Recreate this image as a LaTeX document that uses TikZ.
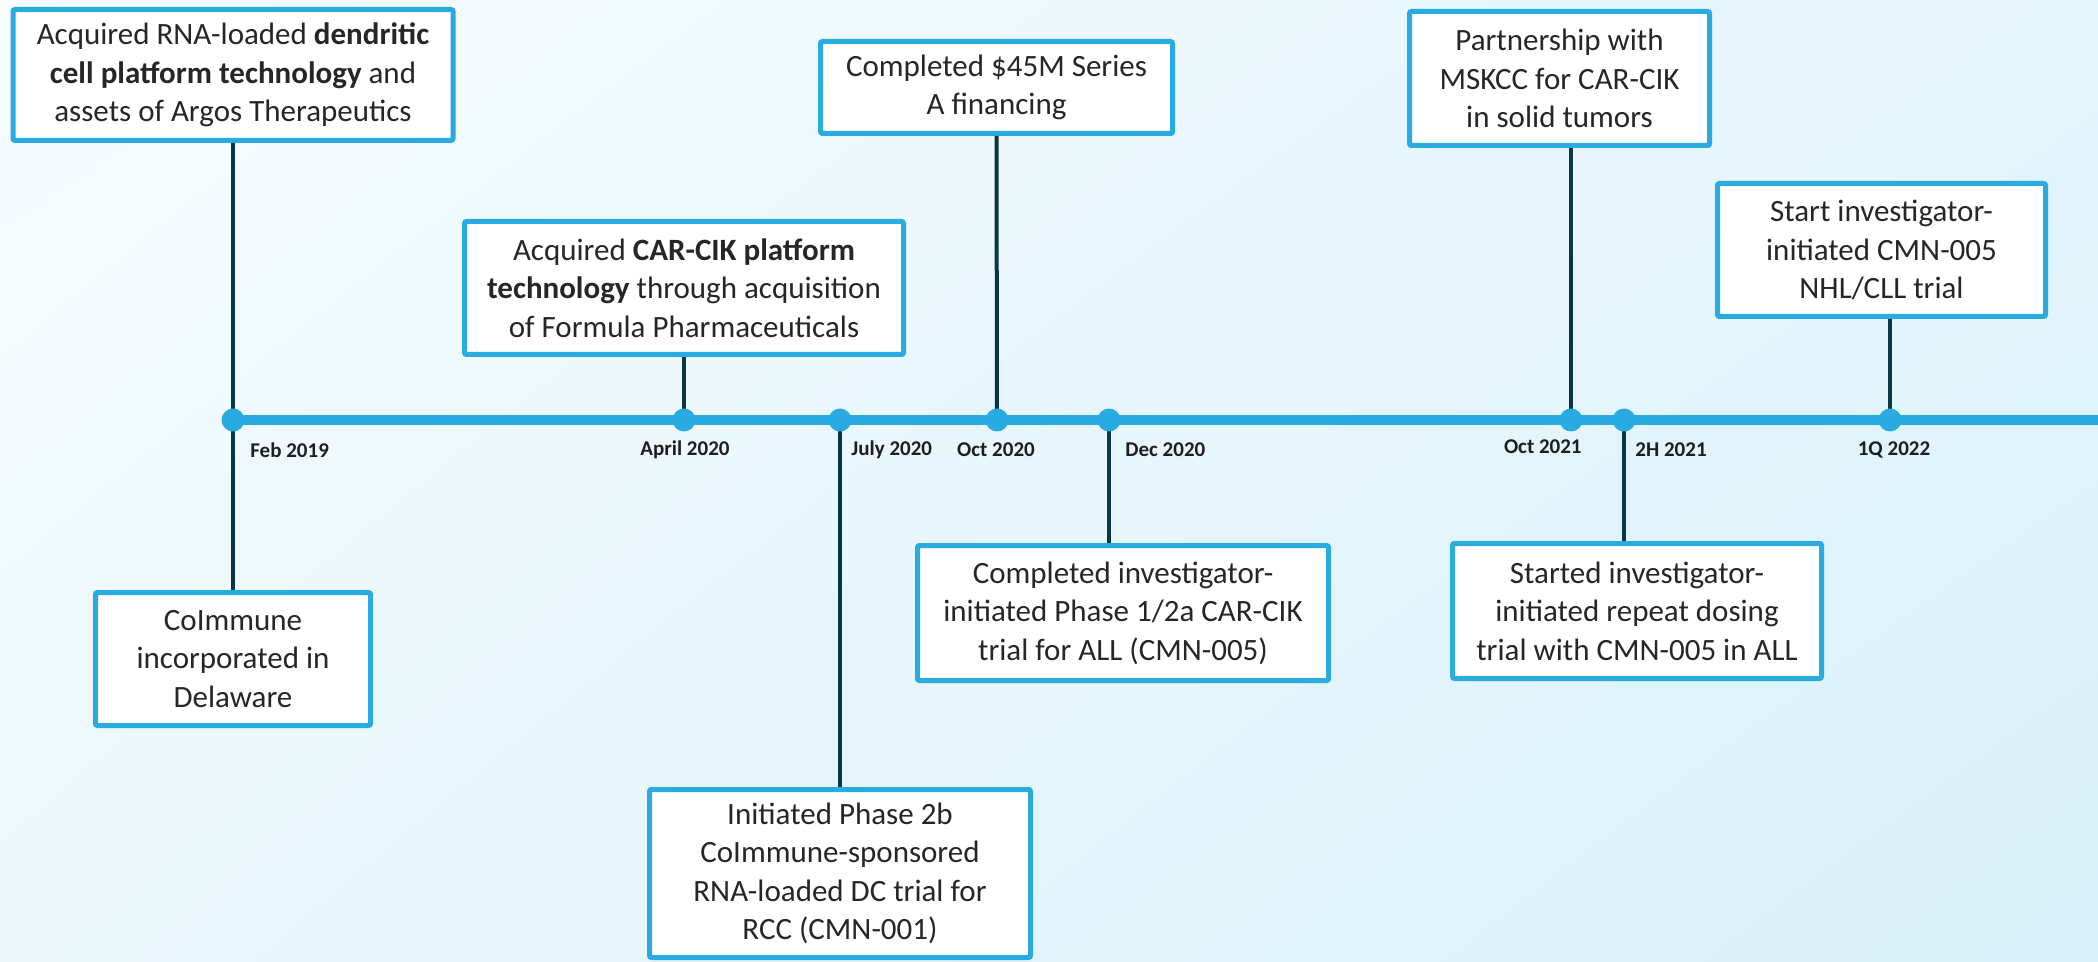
\documentclass[tikz,border=0pt]{standalone}
\usepackage{fontspec}
\setmainfont{Carlito}
\usetikzlibrary{shadings}
\definecolor{tlblue}{RGB}{41,171,226}
\definecolor{stemc}{RGB}{10,55,70}
\definecolor{txt}{RGB}{38,38,38}
\definecolor{datec}{RGB}{30,30,30}
\definecolor{bgtl}{RGB}{247,252,254}
\definecolor{bgtr}{RGB}{228,245,251}
\definecolor{bgbl}{RGB}{236,248,252}
\definecolor{bgbr}{RGB}{215,240,249}
\tikzset{
  box/.style={draw=tlblue, line width=2.5pt, fill=white, align=center, text=txt,
    font=\fontsize{15.5}{19.25}\selectfont, rounded corners=1pt, inner sep=0pt},
  tdot/.style={circle, fill=tlblue, minimum size=11.5pt, inner sep=0pt},
  stem/.style={draw=stemc, line width=2pt},
  axisline/.style={draw=tlblue, line width=5pt},
  datelbl/.style={font=\bfseries\fontsize{10.5}{12}\selectfont, text=datec, inner sep=0pt},
}
\begin{document}
\begin{tikzpicture}[x=0.5pt,y=-0.5pt]
\useasboundingbox (0,0) rectangle (2098,962);
\shade[upper left=bgtl, upper right=bgtr, lower left=bgbl, lower right=bgbr] (0,0) rectangle (2098,962);

% boxes
\node[box, minimum width=220pt, minimum height=65.5pt] (A) at (233,75)
  {Acquired RNA-loaded \textbf{dendritic}\\ \textbf{cell platform technology} and\\ assets of Argos Therapeutics};
\node[box, minimum width=137.5pt, minimum height=66.5pt] (B) at (233,659)
  {CoImmune\\ incorporated in\\ Delaware};
\node[box, minimum width=219.5pt, minimum height=66.5pt] (C) at (684,288)
  {Acquired \textbf{CAR-CIK platform}\\ \textbf{technology} through acquisition\\ of Formula Pharmaceuticals};
\node[box, minimum width=176pt, minimum height=46pt] (D) at (996.5,87.5)
  {Completed \$45M Series\\ A financing};
\node[box, minimum width=190.5pt, minimum height=84pt] (E) at (840,873.5)
  {Initiated Phase 2b\\ CoImmune-sponsored\\ RNA-loaded DC trial for\\ RCC (CMN-001)};
\node[box, minimum width=205.5pt, minimum height=67.5pt] (F) at (1123,613)
  {Completed investigator-\\ initiated Phase 1/2a CAR-CIK\\ trial for ALL (CMN-005)};
\node[box, minimum width=150pt, minimum height=67pt] (G) at (1559.5,78.5)
  {Partnership with\\ MSKCC for CAR-CIK\\ in solid tumors};
\node[box, minimum width=184.5pt, minimum height=67.5pt] (H) at (1637,611)
  {Started investigator-\\ initiated repeat dosing\\ trial with CMN-005 in ALL};
\node[box, minimum width=164pt, minimum height=66.5pt] (I) at (1881.5,250)
  {Start investigator-\\ initiated CMN-005\\ NHL/CLL trial};

% dot positions
\coordinate (p1) at (233,420);
\coordinate (p2) at (684,420);
\coordinate (p3) at (840,420);
\coordinate (p4) at (997,420);
\coordinate (p5) at (1109,420);
\coordinate (p6) at (1571,420);
\coordinate (p7) at (1624,420);
\coordinate (p8) at (1890,420);
\coordinate (axend) at (2098,420);

% stems
\draw[stem] (A.south) -- (B.north);
\draw[stem] (C.south) -- (p2);
\draw[stem] (p3) -- (p3 |- E.north);
\draw[stem] (D.south) -- (p4);
\draw[stem] (p5) -- (p5 |- F.north);
\draw[stem] (p6 |- G.south) -- (p6);
\draw[stem] (p7) -- (p7 |- H.north);
\draw[stem] (p8 |- I.south) -- (p8);

% axis
\draw[axisline] (p1) -- (axend);

% dots
\foreach \i in {1,...,8} \node[tdot] (d\i) at (p\i) {};

% date labels
\node[datelbl, anchor=west] (l1) at (250,450) {Feb 2019};
\node[datelbl] (l2) at (685,450) {April 2020};
\node[datelbl, anchor=west] (l3) at (851,450) {July 2020};
\node[datelbl] (l4) at (996,450) {Oct 2020};
\node[datelbl, anchor=west] (l5) at (1125,450) {Dec 2020};
\node[datelbl, anchor=east] (l6) at (1582,447) {Oct 2021};
\node[datelbl, anchor=west] (l7) at (1635,450) {2H 2021};
\node[datelbl] (l8) at (1894,450) {1Q 2022};
\end{tikzpicture}
\end{document}
